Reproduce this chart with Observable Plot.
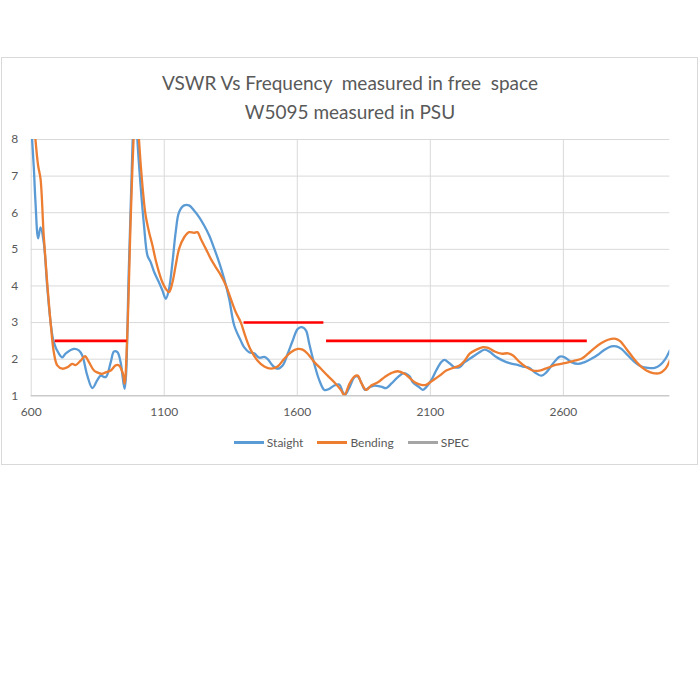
<!DOCTYPE html>
<html>
<head>
<meta charset="utf-8">
<script src="https://cdn.jsdelivr.net/npm/d3@7"></script>
<script src="https://cdn.jsdelivr.net/npm/@observablehq/plot@0.6"></script>
<style>
  html, body { margin: 0; padding: 0; background: #fff; }
  #wrap { position: relative; width: 700px; height: 700px; background: #fff; font-family: Lato, "Open Sans", sans-serif; color: #595959; }
  #frame { position: absolute; left: 1px; top: 57px; width: 695px; height: 406px; border: 1px solid #d9d9d9; }
  #title { position: absolute; left: 0; top: 69px; width: 700px; text-align: center; font-size: 19px; line-height: 28.5px; color: #595959; }
  #chart { position: absolute; left: 0; top: 120px; }
  #legend { position: absolute; left: 0; top: 435px; width: 703px; display: flex; justify-content: center; gap: 14px; font-size: 12px; color: #595959; }
  .item { display: flex; align-items: center; gap: 3px; }
  .sw { width: 30px; height: 2.5px; }
</style>
</head>
<body>
<div id="wrap">
  <div id="frame"></div>
  <div id="title">VSWR Vs Frequency&nbsp; measured in free&nbsp; space<br>W5095 measured in PSU</div>
  <div id="chart"></div>
  <div id="legend"></div>
</div>
<script>
// Staight (blue) series
const straightFreq = [600,610,616,626,635,647,660,673,685,704,717,729,760,779,792,811,830,848,861,880,899,911,924,936,951,967,980,990,999,1011,1024,1037,1049,1062,1080,1093,1106,1118,1131,1143,1156,1175,1193,1212,1231,1250,1269,1288,1306,1325,1344,1363,1388,1400,1419,1438,1457,1476,1489,1507,1526,1545,1564,1583,1602,1620,1633,1645,1664,1683,1702,1720,1739,1758,1771,1780,1796,1815,1827,1840,1855,1871,1890,1915,1934,1953,1978,2000,2022,2034,2059,2072,2084,2103,2122,2141,2153,2172,2191,2210,2229,2254,2279,2304,2323,2348,2373,2398,2423,2448,2473,2492,2518,2536,2562,2587,2605,2630,2655,2680,2705,2730,2755,2780,2799,2818,2843,2868,2893,2918,2943,2962,2981,3000];
const straightVswr = [8.4,7.2,6.3,5.3,5.6,5.2,4.0,3.0,2.46,2.15,2.05,2.15,2.28,2.24,2.1,1.55,1.21,1.42,1.55,1.51,1.92,2.21,2.19,1.92,1.19,4.48,7.66,9.5,8.0,6.75,5.65,4.83,4.65,4.38,4.1,3.88,3.65,3.92,4.65,5.47,6.02,6.2,6.2,6.06,5.88,5.65,5.38,5.02,4.65,4.2,3.65,2.92,2.5,2.33,2.19,2.16,2.04,2.06,2.0,1.83,1.74,1.83,2.15,2.51,2.83,2.87,2.78,2.42,1.87,1.42,1.16,1.19,1.28,1.31,1.1,1.03,1.23,1.51,1.53,1.37,1.16,1.23,1.28,1.25,1.21,1.33,1.51,1.62,1.53,1.37,1.23,1.16,1.23,1.42,1.69,1.92,1.98,1.89,1.78,1.78,1.92,2.04,2.16,2.26,2.2,2.06,1.96,1.89,1.85,1.8,1.76,1.64,1.55,1.64,1.89,2.07,2.05,1.92,1.87,1.92,2.01,2.12,2.26,2.35,2.35,2.28,2.1,1.92,1.8,1.76,1.76,1.83,1.98,2.24];

// Bending (orange) series
const bendingFreq = [600,610,616,626,635,647,660,673,685,698,717,736,754,767,786,802,817,836,848,865,880,899,917,930,945,951,961,974,983,995,1005,1018,1030,1043,1056,1068,1080,1093,1106,1118,1131,1143,1156,1175,1193,1212,1225,1237,1256,1275,1294,1313,1332,1350,1369,1388,1406,1426,1451,1476,1501,1526,1551,1576,1602,1620,1639,1664,1689,1714,1739,1765,1777,1796,1815,1827,1842,1859,1878,1903,1928,1953,1978,2003,2022,2041,2066,2084,2109,2135,2160,2185,2210,2229,2248,2273,2298,2317,2342,2367,2392,2411,2436,2461,2486,2511,2536,2574,2605,2637,2668,2693,2718,2743,2768,2793,2812,2837,2862,2887,2912,2937,2962,2983,3000];
const bendingVswr = [9.8,8.6,8.0,7.29,6.93,5.38,4.1,3.0,2.19,1.83,1.74,1.78,1.87,1.84,1.96,2.08,1.92,1.69,1.64,1.6,1.64,1.69,1.83,1.83,1.6,1.33,2.65,5.84,7.7,9.5,8.0,6.75,5.93,5.47,5.1,4.7,4.38,4.1,3.92,3.83,4.1,4.56,5.02,5.33,5.47,5.45,5.47,5.29,5.02,4.74,4.51,4.29,4.01,3.65,3.28,3.0,2.6,2.24,1.96,1.8,1.74,1.8,2.01,2.19,2.28,2.26,2.15,1.92,1.74,1.55,1.37,1.15,1.01,1.33,1.53,1.55,1.33,1.16,1.28,1.37,1.51,1.62,1.67,1.6,1.49,1.37,1.3,1.3,1.42,1.55,1.69,1.76,1.83,1.96,2.15,2.26,2.33,2.31,2.21,2.15,2.16,2.1,1.92,1.78,1.69,1.69,1.75,1.85,1.89,1.95,2.01,2.15,2.31,2.44,2.53,2.56,2.5,2.28,2.04,1.83,1.69,1.62,1.62,1.73,1.96];

// SPEC segments
const specStart = [690, 1400, 1710];
const specEnd = [960, 1700, 2690];
const specLevel = [2.5, 3.0, 2.5];

// Axis ticks
const xTicks = [600, 1100, 1600, 2100, 2600];
const yTicks = [1, 2, 3, 4, 5, 6, 7, 8];

const seriesNames = ["Staight", "Bending", "SPEC"];
const seriesColors = ["#5B9BD5", "#ED7D31", "#A5A5A5"];

const straight = straightFreq.map((f, i) => ({freq: f, vswr: straightVswr[i]}));
const bending = bendingFreq.map((f, i) => ({freq: f, vswr: bendingVswr[i]}));
const spec = specStart.map((s, i) => ({x1: s, x2: specEnd[i], y: specLevel[i]}));

const chart = Plot.plot({
  width: 700,
  height: 310,
  marginLeft: 30.7,
  marginRight: 30.7,
  marginTop: 19,
  marginBottom: 34.7,
  style: {fontFamily: "Lato, 'Open Sans', sans-serif", fontSize: "12px", color: "#595959", background: "transparent", overflow: "visible"},
  x: {domain: [600, 3000], ticks: xTicks, tickSize: 0, tickPadding: 12, tickFormat: d => String(d), label: null},
  y: {domain: [1, 8], ticks: yTicks, tickSize: 0, tickPadding: 13, tickFormat: d => String(d), label: null},
  marks: [
    Plot.ruleY(yTicks, {stroke: "#d9d9d9", strokeWidth: 1}),
    Plot.ruleX(xTicks, {stroke: "#d9d9d9", strokeWidth: 1}),
    Plot.ruleY([1], {stroke: "#bfbfbf", strokeWidth: 1}),
    Plot.line(straight, {x: "freq", y: "vswr", stroke: seriesColors[0], strokeWidth: 2.3, curve: "catmull-rom", clip: true}),
    Plot.line(bending, {x: "freq", y: "vswr", stroke: seriesColors[1], strokeWidth: 2.3, curve: "catmull-rom", clip: true}),
    Plot.ruleY(spec, {x1: "x1", x2: "x2", y: "y", stroke: "#FF0000", strokeWidth: 2.6})
  ]
});
document.getElementById("chart").appendChild(chart);

const legend = document.getElementById("legend");
seriesNames.forEach((name, i) => {
  const item = document.createElement("div");
  item.className = "item";
  const sw = document.createElement("div");
  sw.className = "sw";
  sw.style.background = seriesColors[i];
  const label = document.createElement("span");
  label.textContent = name;
  item.appendChild(sw);
  item.appendChild(label);
  legend.appendChild(item);
});
</script>
</body>
</html>
